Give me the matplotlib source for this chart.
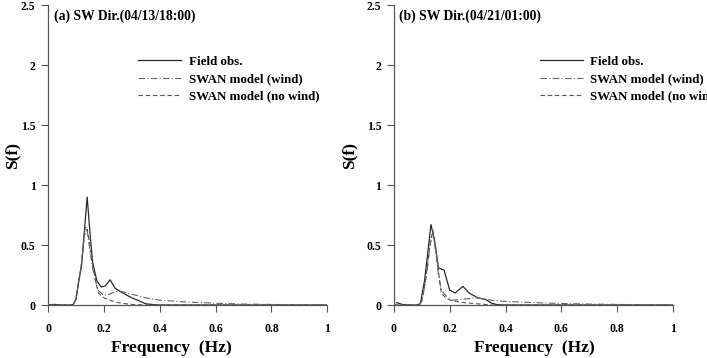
import numpy as np
import matplotlib
matplotlib.use("Agg")
import matplotlib.pyplot as plt

plt.rcParams['font.family'] = ['Liberation Serif', 'DejaVu Serif']
plt.rcParams['font.weight'] = 'bold'

# (a) SW Dir. 04/13/18:00
fa_obs = [0.0, 0.02, 0.05, 0.08, 0.09, 0.10, 0.11, 0.12, 0.13, 0.14, 0.15, 0.16, 0.175, 0.19, 0.205, 0.222, 0.24, 0.26, 0.30, 0.33, 0.35, 0.38, 0.40, 0.5, 0.6, 0.8, 1.0]
sa_obs = [0.0, 0.005, 0.0, 0.0, 0.005, 0.05, 0.2, 0.33, 0.62, 0.9, 0.6, 0.35, 0.2, 0.15, 0.16, 0.21, 0.14, 0.11, 0.06, 0.03, 0.01, 0.003, 0.0, 0.0, 0.0, 0.0, 0.0]
fa_wind = [0.0, 0.05, 0.09, 0.10, 0.11, 0.12, 0.13, 0.135, 0.14, 0.15, 0.16, 0.17, 0.18, 0.20, 0.22, 0.24, 0.26, 0.30, 0.35, 0.40, 0.50, 0.60, 0.70, 0.80, 0.90, 1.0]
sa_wind = [0.0, 0.0, 0.0, 0.05, 0.2, 0.35, 0.6, 0.66, 0.62, 0.45, 0.3, 0.2, 0.12, 0.08, 0.09, 0.11, 0.115, 0.09, 0.06, 0.04, 0.025, 0.015, 0.008, 0.005, 0.002, 0.0]
fa_nowind = [0.0, 0.05, 0.09, 0.10, 0.11, 0.12, 0.13, 0.14, 0.15, 0.16, 0.17, 0.18, 0.20, 0.22, 0.25, 0.28, 0.30, 0.35, 0.40, 0.6, 1.0]
sa_nowind = [0.0, 0.0, 0.0, 0.05, 0.2, 0.35, 0.58, 0.63, 0.5, 0.33, 0.2, 0.1, 0.06, 0.04, 0.02, 0.01, 0.005, 0.0, 0.0, 0.0, 0.0]

# (b) SW Dir. 04/21/01:00
fb_obs = [0.01, 0.03, 0.05, 0.08, 0.095, 0.11, 0.12, 0.133, 0.145, 0.16, 0.18, 0.20, 0.22, 0.247, 0.27, 0.30, 0.33, 0.35, 0.37, 0.40, 0.6, 1.0]
sb_obs = [0.02, 0.005, 0.0, 0.0, 0.01, 0.2, 0.4, 0.67, 0.55, 0.31, 0.29, 0.125, 0.1, 0.155, 0.1, 0.06, 0.045, 0.015, 0.003, 0.0, 0.0, 0.0]
fb_wind = [0.0, 0.05, 0.09, 0.10, 0.11, 0.12, 0.13, 0.14, 0.15, 0.16, 0.17, 0.19, 0.21, 0.25, 0.30, 0.35, 0.40, 0.50, 0.60, 0.70, 0.80, 0.90, 1.0]
sb_wind = [0.0, 0.0, 0.0, 0.03, 0.15, 0.3, 0.5, 0.6, 0.45, 0.25, 0.12, 0.07, 0.04, 0.05, 0.06, 0.04, 0.03, 0.02, 0.013, 0.008, 0.005, 0.002, 0.0]
fb_nowind = [0.0, 0.05, 0.09, 0.10, 0.11, 0.12, 0.13, 0.14, 0.15, 0.16, 0.17, 0.19, 0.21, 0.25, 0.30, 0.35, 0.40, 1.0]
sb_nowind = [0.0, 0.0, 0.0, 0.03, 0.15, 0.32, 0.52, 0.62, 0.48, 0.28, 0.1, 0.05, 0.035, 0.02, 0.01, 0.0, 0.0, 0.0]

titles = ["(a) SW Dir.(04/13/18:00)", "(b) SW Dir.(04/21/01:00)"]
labels = ["Field obs.", "SWAN model (wind)", "SWAN model (no wind)"]
xticks = [0, 0.2, 0.4, 0.6, 0.8, 1]
xticklabels = ["0", "0.2", "0.4", "0.6", "0.8", "1"]
yticks = [0, 0.5, 1, 1.5, 2, 2.5]
yticklabels = ["0", "0.5", "1", "1.5", "2", "2.5"]

panels = [
    (fa_obs, sa_obs, fa_wind, sa_wind, fa_nowind, sa_nowind),
    (fb_obs, sb_obs, fb_wind, sb_wind, fb_nowind, sb_nowind),
]

fig = plt.figure(figsize=(7.07, 3.58), dpi=100)
lefts = [0.068, 0.557]
leg_x = [0.30, 0.50]
ylab_x = [-0.10, -0.13]
xlab_x = [0.44, 0.505]

for i in range(2):
    ax = fig.add_axes([lefts[i], 0.148, 0.395, 0.838])
    f1, s1, f2, s2, f3, s3 = panels[i]
    ax.plot(f1, s1, color='#2a2a2a', lw=0.9, ls='-', label=labels[0])
    ax.plot(f2, s2, color='#666666', lw=0.8, ls=(0, (6, 2, 1, 2)), label=labels[1])
    ax.plot(f3, s3, color='#555555', lw=0.8, ls=(0, (4, 2.5)), label=labels[2])
    ax.set_xlim(0, 1)
    ax.set_ylim(0, 2.5)
    ax.set_xticks(xticks)
    ax.set_xticklabels(xticklabels, fontsize=8.5, fontweight='bold')
    ax.set_yticks(yticks)
    ax.set_yticklabels(yticklabels, fontsize=8.5, fontweight='bold')
    ax.spines['top'].set_visible(False)
    ax.spines['right'].set_visible(False)
    for s in ['left', 'bottom']:
        ax.spines[s].set_color('#555555')
        ax.spines[s].set_linewidth(0.9)
    ax.tick_params(axis='y', direction='out', length=5, width=0.8, color='#555555', pad=4)
    ax.tick_params(axis='x', direction='out', length=5, width=0.8, color='#555555', pad=8)
    ax.set_xlabel("Frequency  (Hz)", fontsize=12.5, fontweight='bold')
    ax.set_ylabel("S(f)", fontsize=12.5, fontweight='bold')
    ax.xaxis.set_label_coords(xlab_x[i], -0.115)
    ax.yaxis.set_label_coords(ylab_x[i], 0.5)
    ax.text(0.02, 0.985, titles[i], transform=ax.transAxes,
            fontweight='bold', va='top', ha='left', fontsize=9.8)
    ax.legend(loc='upper left', bbox_to_anchor=(leg_x[i], 0.853), frameon=False,
              handlelength=3.3, labelspacing=0.4, borderpad=0,
              handletextpad=0.55, prop={'weight': 'bold', 'size': 9.4})

fig.savefig("out.png", dpi=100)
